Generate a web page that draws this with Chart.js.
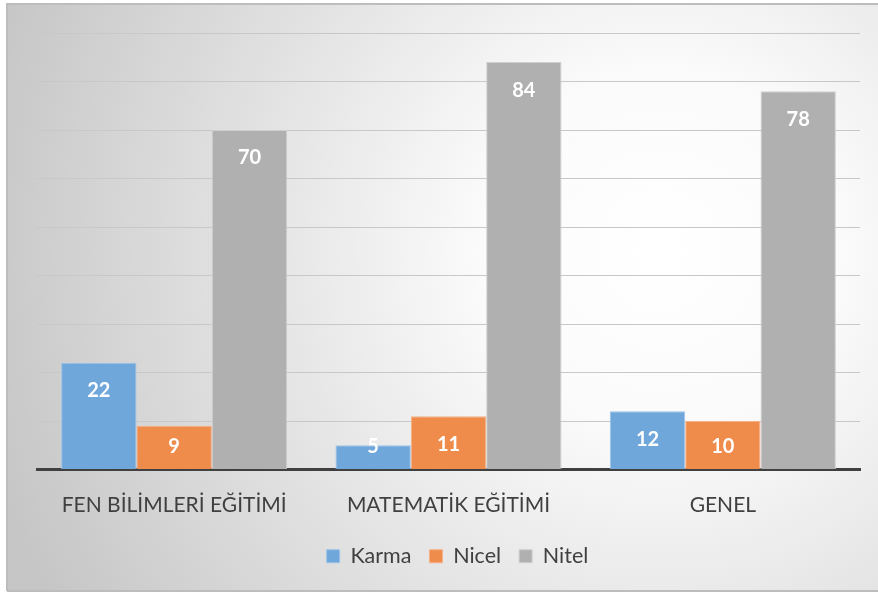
<!DOCTYPE html>
<html>
<head>
<meta charset="utf-8">
<script src="https://cdn.jsdelivr.net/npm/chart.js@4"></script>
<style>
html,body{margin:0;padding:0;background:#fff;}
#wrap{width:878px;height:594px;position:relative;}
</style>
</head>
<body>
<div id="wrap"><canvas id="c" width="878" height="594"></canvas></div>
<script>
const categories = ["FEN BİLİMLERİ EĞİTİMİ", "MATEMATİK EĞİTİMİ", "GENEL"];
const seriesNames = ["Karma", "Nicel", "Nitel"];
const karma = [22, 5, 12];
const nicel = [9, 11, 10];
const nitel = [70, 84, 78];

const FONT = "Lato, 'Open Sans', sans-serif";

const bgPlugin = {
  id: 'bg',
  afterLayout(chart) {
    if (chart.legend) { chart.legend.left += 9; chart.legend.right += 9; }
  },
  beforeDraw(chart) {
    const ctx = chart.ctx;
    ctx.save();
    ctx.fillStyle = '#ffffff';
    ctx.fillRect(0, 0, chart.width, chart.height);
    const g = ctx.createRadialGradient(660, 250, 0, 660, 250, 700);
    g.addColorStop(0, '#ffffff');
    g.addColorStop(0.25, '#fbfbfb');
    g.addColorStop(0.6, '#e2e2e2');
    g.addColorStop(1, '#c6c6c6');
    ctx.fillStyle = g;
    ctx.fillRect(7, 4, chart.width - 7, 587);
    ctx.strokeStyle = '#bdbdbd';
    ctx.lineWidth = 2;
    ctx.beginPath();
    ctx.moveTo(7, 591); ctx.lineTo(7, 4); ctx.lineTo(chart.width, 4);
    ctx.moveTo(7, 591); ctx.lineTo(chart.width, 591);
    ctx.stroke();
    ctx.restore();
  }
};

const labelPlugin = {
  id: 'barLabels',
  afterDatasetsDraw(chart) {
    const ctx = chart.ctx;
    ctx.save();
    ctx.font = "bold 20px " + FONT;
    ctx.fillStyle = '#ffffff';
    ctx.textAlign = 'center';
    ctx.textBaseline = 'middle';
    chart.data.datasets.forEach((ds, i) => {
      const meta = chart.getDatasetMeta(i);
      meta.data.forEach((el, j) => {
        const y = Math.min(el.y + 28, el.base - 22);
        ctx.fillText(String(ds.data[j]), el.x, y);
      });
    });
    ctx.restore();
  }
};

new Chart(document.getElementById('c'), {
  type: 'bar',
  data: {
    labels: categories,
    datasets: [
      { label: seriesNames[0], data: karma, backgroundColor: '#6fa7db', borderColor: '#9dc3e8', borderWidth: 1 },
      { label: seriesNames[1], data: nicel, backgroundColor: '#ef8c4c', borderColor: '#f5b089', borderWidth: 1 },
      { label: seriesNames[2], data: nitel, backgroundColor: '#b0b0b0', borderColor: '#cfcfcf', borderWidth: 1 }
    ]
  },
  options: {
    responsive: false,
    animation: false,
    devicePixelRatio: 1,
    layout: { padding: { left: 37, right: 18, top: 33, bottom: 17 } },
    datasets: { bar: { categoryPercentage: 0.824, barPercentage: 1 } },
    scales: {
      x: {
        grid: { display: false, drawTicks: false },
        border: { display: true, color: '#404040', width: 3 },
        ticks: { color: '#404040', font: { family: FONT, size: 21 }, padding: 23, maxRotation: 0 },
        afterFit(scale) { scale.height = 58; }
      },
      y: {
        min: 0, max: 90,
        ticks: { display: false, stepSize: 10 },
        grid: { color: '#c8c8c8', lineWidth: 1, drawTicks: false },
        border: { display: false }
      }
    },
    plugins: {
      legend: {
        position: 'bottom',
        labels: {
          boxWidth: 13, boxHeight: 13, color: '#404040',
          font: { family: FONT, size: 21.5 }, padding: 18
        }
      },
      tooltip: { enabled: false }
    }
  },
  plugins: [bgPlugin, labelPlugin]
});
</script>
</body>
</html>
